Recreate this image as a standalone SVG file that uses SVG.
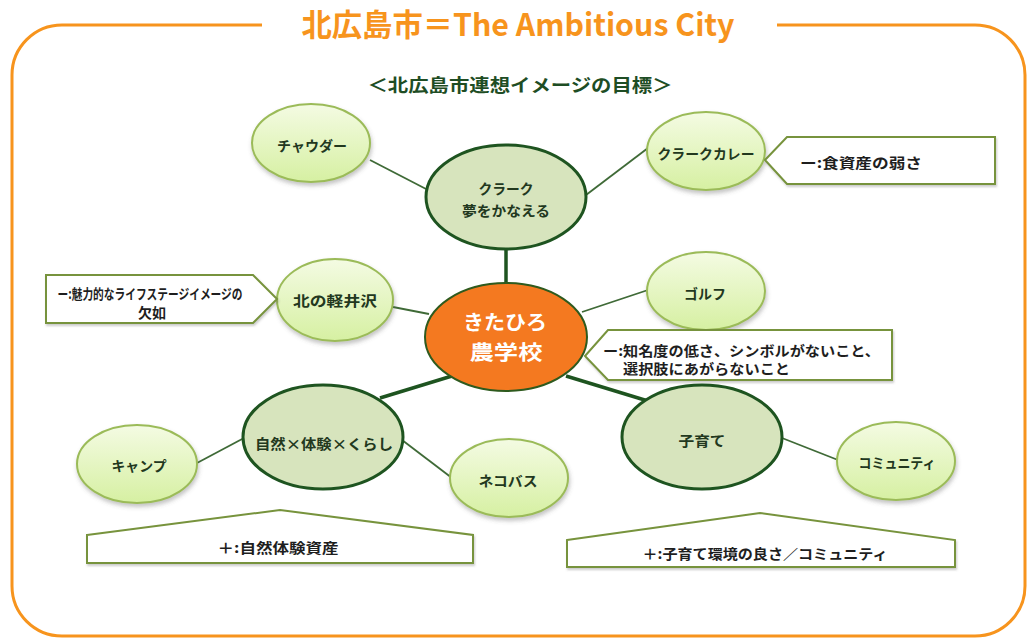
<svg xmlns="http://www.w3.org/2000/svg" width="1028" height="639" viewBox="0 0 1028 639">
<defs>
<linearGradient id="lg" x1="0" y1="0" x2="0" y2="1">
<stop offset="0" stop-color="#F4FBE3"/>
<stop offset="1" stop-color="#D6F0A2"/>
</linearGradient>
<filter id="sh" x="-20%" y="-20%" width="140%" height="150%">
<feDropShadow dx="1" dy="3" stdDeviation="2" flood-color="#555" flood-opacity="0.35"/>
</filter>
<filter id="sh2" x="-10%" y="-20%" width="120%" height="150%">
<feDropShadow dx="1" dy="2" stdDeviation="1.2" flood-color="#555" flood-opacity="0.3"/>
</filter>
</defs>
<style>
.light{fill:url(#lg);stroke:#9BBB59;stroke-width:2;filter:url(#sh)}
.dark{fill:#D7E4BD;stroke:#1E5420;stroke-width:3}
.call{fill:#FFFFFF;stroke:#77933C;stroke-width:2;filter:url(#sh2)}
.t{font-family:"Noto Sans CJK JP","Noto Sans",sans-serif;font-weight:bold;text-anchor:middle;dominant-baseline:central}
.s{text-anchor:start}
.nt{fill:#22381E;font-size:14px}
.ct{fill:#1E1E1E;font-size:14px}
.thin{stroke:#3F6A37;stroke-width:1.8;fill:none}
.thick{stroke:#1E5420;stroke-width:3.5;fill:none}
</style>
<rect width="1028" height="639" fill="#FFFFFF"/>
<g id="frame">
<path d="M262,25 H62 A50,50 0 0 0 12,75 V586 A50,50 0 0 0 62,636 H975 A50,50 0 0 0 1025,586 V75 A50,50 0 0 0 975,25 H777" fill="none" stroke="#F7941D" stroke-width="3"/>
<text x="518" y="22" class="t" fill="#F7941D" font-size="31" textLength="433" lengthAdjust="spacingAndGlyphs">北広島市＝The Ambitious City</text>
<text x="520" y="84" class="t" fill="#1E4D24" font-size="18" textLength="305" lengthAdjust="spacingAndGlyphs">＜北広島市連想イメージの目標＞</text>
</g>
<g id="connectors">
<line class="thin" x1="370" y1="160" x2="428" y2="190"/>
<line class="thin" x1="586" y1="195" x2="648" y2="148"/>
<line class="thick" x1="506" y1="249" x2="506" y2="284"/>
<line class="thin" x1="393" y1="307" x2="429" y2="314"/>
<line class="thin" x1="582" y1="312" x2="648" y2="290"/>
<line class="thick" x1="380" y1="398" x2="452" y2="376"/>
<line class="thick" x1="566" y1="376" x2="648" y2="401"/>
<line class="thin" x1="244" y1="438" x2="197" y2="463"/>
<line class="thin" x1="402" y1="440" x2="452" y2="478"/>
<line class="thin" x1="782" y1="438" x2="838" y2="460"/>
</g>
<g id="node-chowder">
<ellipse class="light" cx="311" cy="143" rx="59" ry="39"/>
<text class="t nt" x="312" y="145" textLength="70" lengthAdjust="spacingAndGlyphs">チャウダー</text>
</g>
<g id="node-clark">
<ellipse class="dark" cx="506" cy="197" rx="80" ry="52"/>
<text class="t nt" x="506" y="188" textLength="55" lengthAdjust="spacingAndGlyphs">クラーク</text>
<text class="t nt" x="506" y="210" textLength="88" lengthAdjust="spacingAndGlyphs">夢をかなえる</text>
</g>
<g id="node-curry">
<ellipse class="light" cx="706" cy="151" rx="59" ry="39"/>
<text class="t nt" x="706" y="153" textLength="97" lengthAdjust="spacingAndGlyphs">クラークカレー</text>
</g>
<g id="callout-food">
<polygon class="call" points="765,160 787,137 995,137 995,184 787,184"/>
<text class="t ct" x="861" y="162" textLength="122" lengthAdjust="spacingAndGlyphs">ー:食資産の弱さ</text>
</g>
<g id="node-karuizawa">
<ellipse class="light" cx="335" cy="300" rx="58" ry="41"/>
<text class="t nt" x="335" y="300" font-size="16" textLength="84" lengthAdjust="spacingAndGlyphs">北の軽井沢</text>
</g>
<g id="callout-lifestage">
<polygon class="call" points="46,275 253,275 277,299 253,323 46,323"/>
<text class="t ct" x="150" y="293" font-size="10.5" textLength="185" lengthAdjust="spacingAndGlyphs">ー:魅力的なライフステージイメージの</text>
<text class="t ct" x="152" y="312" font-size="10.5">欠如</text>
</g>
<g id="node-center">
<ellipse cx="506" cy="337" rx="81" ry="54" fill="#F47920" stroke="#2E5A1E" stroke-width="2"/>
<text class="t" x="505" y="321" fill="#FFFFFF" font-size="20" textLength="84" lengthAdjust="spacingAndGlyphs">きたひろ</text>
<text class="t" x="506" y="351" fill="#FFFFFF" font-size="20" textLength="73" lengthAdjust="spacingAndGlyphs">農学校</text>
</g>
<g id="node-golf">
<ellipse class="light" cx="706" cy="291" rx="59" ry="39"/>
<text class="t nt" x="705" y="293" font-size="15">ゴルフ</text>
</g>
<g id="callout-center">
<polygon class="call" points="585,356 608,330 892,330 892,380 608,380"/>
<text class="t ct s" x="603" y="350" font-size="15" textLength="277" lengthAdjust="spacingAndGlyphs">ー:知名度の低さ、シンボルがないこと、</text>
<text class="t ct s" x="623" y="368" font-size="15" textLength="167" lengthAdjust="spacingAndGlyphs">選択肢にあがらないこと</text>
</g>
<g id="node-nature">
<ellipse class="dark" cx="323" cy="437" rx="80" ry="52"/>
<text class="t nt" x="324" y="443" font-size="15" textLength="138" lengthAdjust="spacingAndGlyphs">自然×体験×くらし</text>
</g>
<g id="node-camp">
<ellipse class="light" cx="137" cy="464" rx="60" ry="39"/>
<text class="t nt" x="139" y="465" textLength="55" lengthAdjust="spacingAndGlyphs">キャンプ</text>
</g>
<g id="node-nekobus">
<ellipse class="light" cx="509" cy="478" rx="59" ry="39"/>
<text class="t nt" x="508" y="480" textLength="59" lengthAdjust="spacingAndGlyphs">ネコバス</text>
</g>
<g id="callout-nature">
<polygon class="call" points="87,535 280,510 473,535 473,563 87,563"/>
<text class="t ct" x="278" y="547" textLength="121" lengthAdjust="spacingAndGlyphs">＋:自然体験資産</text>
</g>
<g id="node-childcare">
<ellipse class="dark" cx="702" cy="437" rx="80" ry="52"/>
<text class="t nt" x="702" y="440" font-size="15" textLength="47" lengthAdjust="spacingAndGlyphs">子育て</text>
</g>
<g id="node-community">
<ellipse class="light" cx="896" cy="461" rx="59" ry="39"/>
<text class="t nt" x="897" y="462" textLength="77" lengthAdjust="spacingAndGlyphs">コミュニティ</text>
</g>
<g id="callout-childcare">
<polygon class="call" points="567,540 760,513 955,540 955,567 567,567"/>
<text class="t ct" x="765" y="553" textLength="245" lengthAdjust="spacingAndGlyphs">＋:子育て環境の良さ／コミュニティ</text>
</g>
</svg>
